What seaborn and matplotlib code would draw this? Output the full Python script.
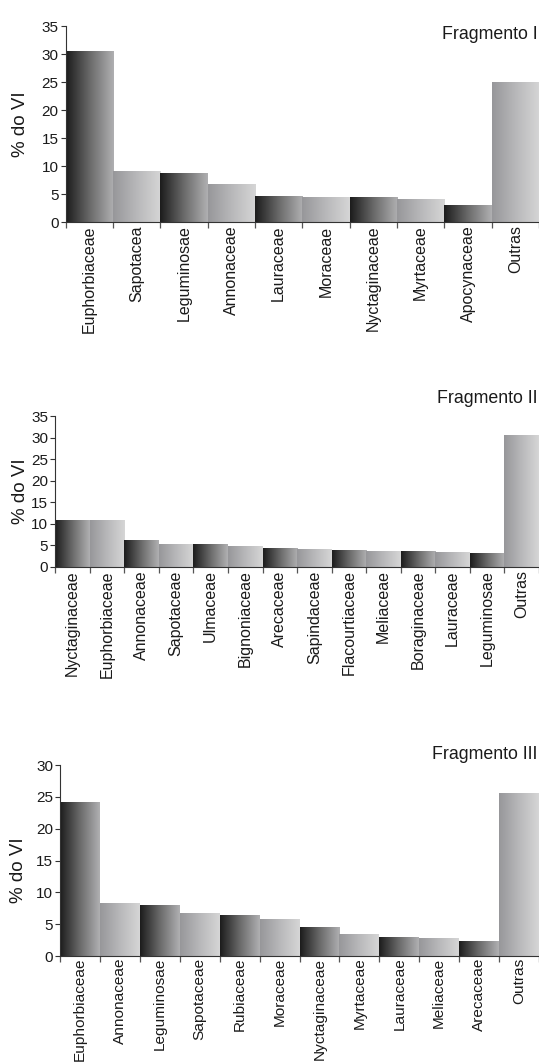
import numpy as np
import matplotlib
matplotlib.use("Agg")
import matplotlib.pyplot as plt
import seaborn as sns

# ---------------- data ----------------
frag1_families = ["Euphorbiaceae", "Sapotacea", "Leguminosae", "Annonaceae", "Lauraceae",
                  "Moraceae", "Nyctaginaceae", "Myrtaceae", "Apocynaceae", "Outras"]
frag1_values = [30.4, 9.1, 8.6, 6.7, 4.5, 4.3, 4.3, 3.95, 3.0, 25.0]

frag2_families = ["Nyctaginaceae", "Euphorbiaceae", "Annonaceae", "Sapotaceae", "Ulmaceae",
                  "Bignoniaceae", "Arecaceae", "Sapindaceae", "Flacourtiaceae", "Meliaceae",
                  "Boraginaceae", "Lauraceae", "Leguminosae", "Outras"]
frag2_values = [10.8, 10.8, 6.2, 5.3, 5.3, 4.8, 4.3, 4.05, 3.8, 3.6, 3.6, 3.35, 3.1, 30.5]

frag3_families = ["Euphorbiaceae", "Annonaceae", "Leguminosae", "Sapotaceae", "Rubiaceae",
                  "Moraceae", "Nyctaginaceae", "Myrtaceae", "Lauraceae", "Meliaceae",
                  "Arecaceae", "Outras"]
frag3_values = [24.2, 8.2, 8.0, 6.7, 6.3, 5.8, 4.5, 3.4, 2.9, 2.75, 2.3, 25.5]

titles = ["Fragmento I", "Fragmento II", "Fragmento III"]
y_maxes = [35, 35, 30]
ylabel = "% do VI"

# ---------------- style ----------------
sns.set_theme(style="ticks")
plt.rcParams["font.family"] = ["Liberation Sans", "DejaVu Sans"]

W, H = 539, 1063
fig = plt.figure(figsize=(W / 100, H / 100), dpi=100)

# axes rectangles in pixels: left, top, bottom (right is figure edge)
rects_px = [(65.6, 26.0, 222.0), (55.2, 416.3, 567.0), (60.0, 765.2, 956.0)]
ylabel_x = [-0.078, -0.055, -0.068]
ylabel_y = [0.5, 0.5, 0.45]
title_y = [0.957, 1.115, 1.058]
xlabel_size = [11.5, 11.5, 11.1]
xlabel_pad = [2.5, 2.5, 1.2]

dark_cmap = matplotlib.colors.LinearSegmentedColormap.from_list(
    "dark", ["#1c1c1c", "#6a6a6a", "#b0b0b2"])
light_cmap = matplotlib.colors.LinearSegmentedColormap.from_list(
    "light", ["#97979a", "#b8b8ba", "#d6d6d6"])
grad = np.linspace(0, 1, 256).reshape(1, -1)

datasets = [(frag1_families, frag1_values), (frag2_families, frag2_values),
            (frag3_families, frag3_values)]

for i, ((fams, vals), (l, t, b)) in enumerate(zip(datasets, rects_px)):
    ax = fig.add_axes([l / W, 1 - b / H, (W - l) / W, (b - t) / H])
    sns.barplot(x=fams, y=vals, order=fams, ax=ax, width=1.0, color="#888888",
                linewidth=0, saturation=1)
    for j, p in enumerate(list(ax.patches)):
        x0, y0 = p.get_x(), p.get_y()
        w, h = p.get_width(), p.get_height()
        p.set_facecolor("none")
        cmap = dark_cmap if j % 2 == 0 else light_cmap
        ax.imshow(grad, cmap=cmap, extent=[x0, x0 + w, y0, y0 + h],
                  aspect="auto", interpolation="bilinear", zorder=2)
    n = len(fams)
    ax.set_xlim(-0.5, n - 0.5)
    ax.set_ylim(0, y_maxes[i])
    ax.set_yticks(np.arange(0, y_maxes[i] + 1, 5))
    # ticks at bar boundaries, labels at bar centres
    ax.set_xticks(np.arange(n))
    ax.set_xticklabels(fams, rotation=90, fontsize=xlabel_size[i], color="#1a1a1a")
    ax.set_xticks(np.arange(-0.5, n, 1.0), minor=True)
    ax.tick_params(axis="x", which="major", length=0, pad=xlabel_pad[i])
    ax.tick_params(axis="x", which="minor", length=4.5, width=0.9, color="#555555")
    ax.tick_params(axis="y", length=3.5, width=0.8, color="#333333",
                   labelsize=11, labelcolor="#1a1a1a", pad=1.5)
    for s in ["top", "right"]:
        ax.spines[s].set_visible(False)
    for s in ["left", "bottom"]:
        ax.spines[s].set_color("#333333")
        ax.spines[s].set_linewidth(0.8)
        ax.spines[s].set_zorder(5)
    ax.set_xlabel("")
    ax.set_ylabel(ylabel, fontsize=13.5, color="#1a1a1a")
    ax.yaxis.set_label_coords(ylabel_x[i], ylabel_y[i])
    ax.text(0.997, title_y[i], titles[i], transform=ax.transAxes, ha="right",
            va="center", fontsize=12.8, color="#1a1a1a")

fig.savefig("out.png", dpi=100)
